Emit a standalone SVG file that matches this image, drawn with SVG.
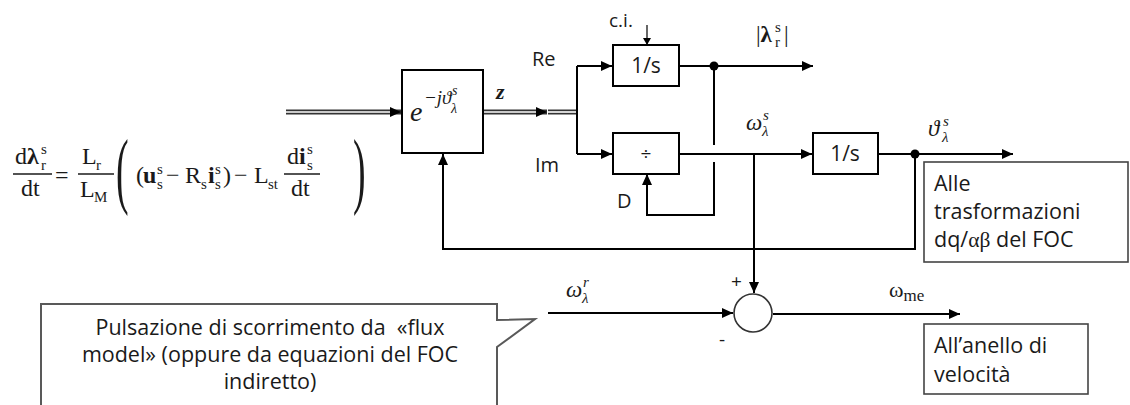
<svg xmlns="http://www.w3.org/2000/svg" width="1130" height="405" viewBox="0 0 1130 405">
<defs>
<marker id="arr" markerUnits="userSpaceOnUse" markerWidth="12" markerHeight="10" refX="11" refY="5" orient="auto"><path d="M0,0 L11,5 L0,10 z" fill="#000"/></marker>
<marker id="arrs" markerUnits="userSpaceOnUse" markerWidth="8" markerHeight="8" refX="7" refY="4" orient="auto"><path d="M0,0 L7,4 L0,8 z" fill="#000"/></marker>
<style>
.ln{fill:none;stroke:#000;stroke-width:2}
.thin{fill:none;stroke:#000;stroke-width:1.2}
.dbl{fill:none;stroke:#333;stroke-width:5}
.dbli{fill:none;stroke:#fff;stroke-width:1.6}
.box{fill:#fff;stroke:#000;stroke-width:2}
.nbox{fill:#fff;stroke:#444;stroke-width:1.6}
.sans{font-family:"Open Sans","Liberation Sans",sans-serif;fill:#1a1a1a}
.ser{font-family:"Liberation Serif","DejaVu Serif",serif;fill:#1a1a1a}
.it{font-style:italic}
.b{font-weight:bold}
.sm{font-size:15px}
</style>
</defs>

<g id="equation" class="ser" font-size="24">
  <text x="15" y="164">d<tspan class="b">λ</tspan></text>
  <text x="41" y="154" class="sm">s</text>
  <text x="41" y="170" class="sm">r</text>
  <line x1="13" y1="174" x2="52" y2="174" stroke="#1a1a1a" stroke-width="1.3"/>
  <text x="21" y="196">dt</text>
  <text x="55" y="183">=</text>
  <text x="82" y="164">L</text>
  <text x="96" y="170" class="sm">r</text>
  <line x1="78" y1="174" x2="114" y2="174" stroke="#1a1a1a" stroke-width="1.3"/>
  <text x="80" y="197">L</text>
  <text x="94" y="202" class="sm">M</text>
  <text transform="translate(116,198) scale(0.45,1)" font-size="84">(</text>
  <text x="136" y="183">(</text>
  <text x="143" y="183" class="b">u</text>
  <text x="157" y="174" class="sm">s</text>
  <text x="157" y="189" class="sm">s</text>
  <text x="166" y="183">−</text>
  <text x="185" y="183">R</text>
  <text x="201" y="189" class="sm">s</text>
  <text x="208" y="183" class="b">i</text>
  <text x="215" y="174" class="sm">s</text>
  <text x="215" y="189" class="sm">s</text>
  <text x="223" y="183">)</text>
  <text x="234" y="183">−</text>
  <text x="254" y="183">L</text>
  <text x="268" y="189" class="sm">st</text>
  <text x="287" y="164">d<tspan class="b">i</tspan></text>
  <text x="307" y="154" class="sm">s</text>
  <text x="307" y="170" class="sm">s</text>
  <line x1="284" y1="174" x2="320" y2="174" stroke="#1a1a1a" stroke-width="1.3"/>
  <text x="291" y="196">dt</text>
  <text transform="translate(353,198) scale(0.45,1)" font-size="84">)</text>
</g>

<g id="connectors">
  <path class="dbl" d="M286,112 H401" marker-end="url(#arr)"/>
  <path class="dbli" d="M286,112 H390"/>
  <path class="dbl" d="M483,112 H547" marker-end="url(#arr)"/>
  <path class="dbli" d="M484,112 H536"/>
  <path class="dbl" d="M548,112 H577"/>
  <path class="dbli" d="M548,112 H576"/>
  <path class="ln" d="M577,66 V154"/>
  <path class="ln" d="M577,66 H612" marker-end="url(#arr)"/>
  <path class="ln" d="M577,154 H612" marker-end="url(#arr)"/>
  <path class="thin" d="M647,25 V45" marker-end="url(#arrs)"/>
  <path class="ln" d="M679,66 H813" marker-end="url(#arr)"/>
  <path class="ln" d="M714,66 V145"/>
  <path class="ln" d="M714,162 V215 H647 V174" marker-end="url(#arr)"/>
  <path class="ln" d="M679,154 H812" marker-end="url(#arr)"/>
  <path class="ln" d="M754,154 V293" marker-end="url(#arr)"/>
  <path class="ln" d="M878,154 H1013" marker-end="url(#arr)"/>
  <path class="ln" d="M915,154 V249 H443 V154" marker-end="url(#arr)"/>
  <path class="ln" d="M548,313 H733" marker-end="url(#arr)"/>
  <path class="ln" d="M773,314 H960" marker-end="url(#arr)"/>
  <circle cx="714" cy="66" r="4.5" fill="#000"/>
  <circle cx="915" cy="154" r="4.5" fill="#000"/>
</g>

<g id="exp">
  <rect class="box" x="402" y="70" width="81" height="83"/>
  <text class="ser it" x="410" y="121" font-size="28">e</text>
  <text class="ser it" x="424" y="104" font-size="19">−jϑ</text>
  <text class="ser it" x="452" y="95" font-size="14">s</text>
  <text class="ser it" x="451" y="113" font-size="14">λ</text>
</g>

<g id="labels">
  <text class="ser it b" x="496" y="99" font-size="22">z</text>
  <text class="sans" x="532" y="66" font-size="20">Re</text>
  <text class="sans" x="535" y="172" font-size="20">Im</text>
  <text class="sans" x="609" y="27" font-size="19">c.i.</text>
  <text class="sans" x="617" y="208" font-size="20">D</text>
  <text class="ser" x="756" y="42" font-size="23">|<tspan class="b">λ</tspan></text>
  <text class="ser" x="775" y="32" font-size="15">s</text>
  <text class="ser" x="775" y="47" font-size="15">r</text>
  <text class="ser" x="784" y="42" font-size="23">|</text>
  <text class="ser it" x="746" y="130" font-size="23">ω</text>
  <text class="ser it" x="763" y="120" font-size="15">s</text>
  <text class="ser it" x="762" y="136" font-size="15">λ</text>
  <text class="ser it" x="928" y="136" font-size="23">ϑ</text>
  <text class="ser it" x="943" y="126" font-size="15">s</text>
  <text class="ser it" x="942" y="142" font-size="15">λ</text>
  <text class="ser it" x="566" y="297" font-size="23">ω</text>
  <text class="ser it" x="583" y="287" font-size="15">r</text>
  <text class="ser it" x="582" y="303" font-size="15">λ</text>
  <text class="ser" x="889" y="297" font-size="22">ω<tspan font-size="17" dy="4">me</tspan></text>
  <text class="sans" x="731" y="288" font-size="19">+</text>
  <text class="sans" x="719" y="346" font-size="19">-</text>
</g>

<g id="int1">
  <rect class="box" x="613" y="45" width="66" height="41"/>
  <text class="sans" x="646" y="73" font-size="21" text-anchor="middle">1/s</text>
</g>

<g id="div">
  <rect class="box" x="613" y="133" width="66" height="41"/>
  <text class="sans" x="646" y="160" font-size="19" text-anchor="middle">÷</text>
</g>

<g id="int2">
  <rect class="box" x="813" y="133" width="65" height="41"/>
  <text class="sans" x="845" y="161" font-size="21" text-anchor="middle">1/s</text>
</g>

<g id="sum">
  <circle cx="753" cy="313" r="19" fill="#fff" stroke="#333" stroke-width="1.6"/>
</g>

<g id="foc">
  <rect class="nbox" x="924" y="162" width="204" height="100"/>
  <text class="sans" x="934" y="191" font-size="21.5">Alle</text>
  <text class="sans" x="934" y="219" font-size="21.5">trasformazioni</text>
  <text class="sans" x="934" y="247" font-size="21.5">dq/<tspan class="ser">αβ</tspan> del FOC</text>
</g>

<g id="anello">
  <rect class="nbox" x="924" y="324" width="164" height="70"/>
  <text class="sans" x="934" y="353" font-size="21.5">All’anello di</text>
  <text class="sans" x="934" y="382" font-size="21.5">velocità</text>
</g>

<g id="callout">
  <path d="M41,304 H497 V320 L535,319 L497,347 V412 H41 Z" fill="#fff" stroke="#595959" stroke-width="2"/>
  <text class="sans" x="270" y="335" font-size="21.5" text-anchor="middle">Pulsazione di scorrimento da&#160; «flux</text>
  <text class="sans" x="270" y="362" font-size="21.5" text-anchor="middle">model» (oppure da equazioni del FOC</text>
  <text class="sans" x="270" y="389" font-size="21.5" text-anchor="middle">indiretto)</text>
</g>
</svg>
